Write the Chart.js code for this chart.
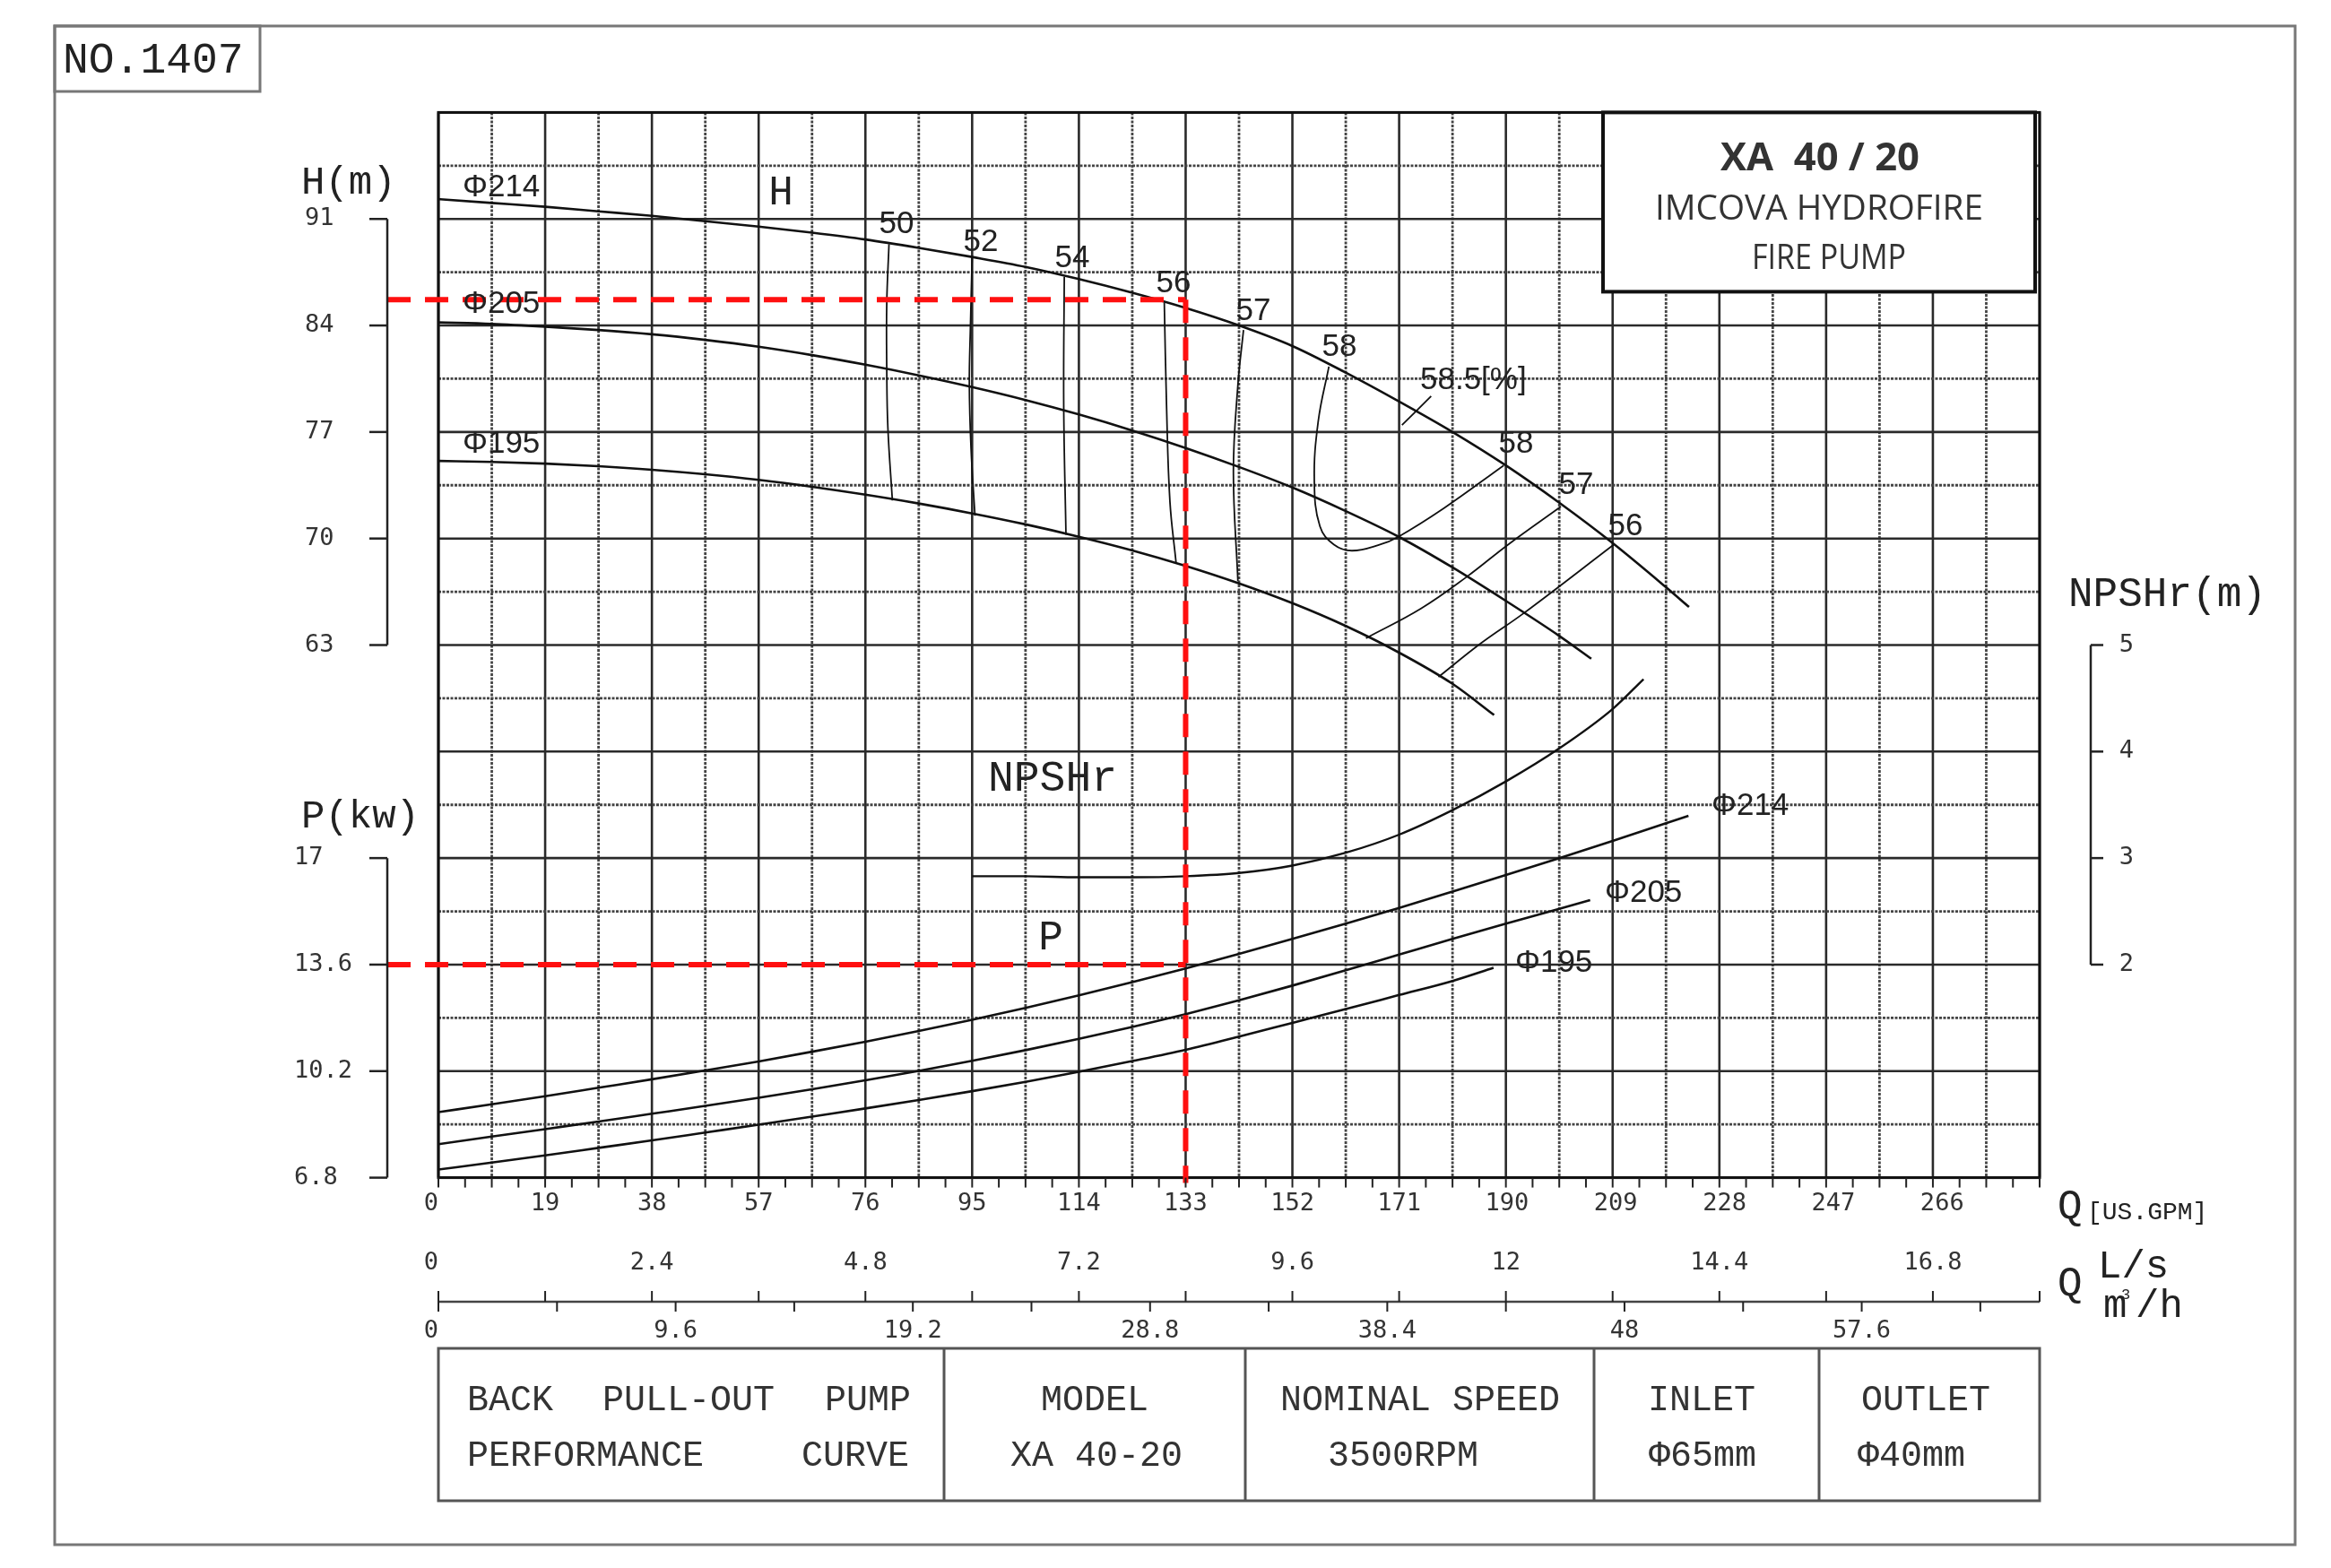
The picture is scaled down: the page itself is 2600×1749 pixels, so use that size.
<!DOCTYPE html>
<html><head><meta charset="utf-8">
<script src="https://cdn.jsdelivr.net/npm/chart.js@4.4.1/dist/chart.umd.min.js"></script>
<style>html,body{margin:0;padding:0;background:#fff;}canvas{display:block;}</style>
</head><body>
<canvas id="c" width="2600" height="1749"></canvas>
<script>
// ---------------- tick labels ----------------
const flowGpmTicks = [0,19,38,57,76,95,114,133,152,171,190,209,228,247,266];
const flowLpsTicks = [0,2.4,4.8,7.2,9.6,12,14.4,16.8];
const flowM3hTicks = [0,9.6,19.2,28.8,38.4,48,57.6];
const headTicks = [63,70,77,84,91];
const powerTicks = [6.8,10.2,13.6,17];
const npshTicks = [2,3,4,5];

// ---------------- head curves H (m) vs Q (US GPM) ----------------
const flowH214 = [0,9.5,19,28.5,38,47.5,57,66.5,76,85.5,95,104.5,114,123.5,133,142.5,152,161.5,171,180.5,190,199.5,209,218.5,222.6];
const headH214 = [92.3,92.05,91.8,91.5,91.2,90.85,90.5,90.1,89.65,89.1,88.5,87.85,87.05,86.15,85.15,84.0,82.65,80.9,79.0,77.0,74.8,72.35,69.7,66.8,65.5];
const flowH205 = [0,9.5,19,28.5,38,47.5,57,66.5,76,85.5,95,104.5,114,123.5,133,142.5,152,161.5,171,180.5,190,199.5,205.2];
const headH205 = [84.2,84.1,83.92,83.7,83.42,83.05,82.6,82.05,81.42,80.72,79.95,79.1,78.15,77.1,75.95,74.7,73.35,71.8,70.1,68.1,65.9,63.6,62.1];
const flowH195 = [0,9.5,19,28.5,38,47.5,57,66.5,76,85.5,95,104.5,114,123.5,133,142.5,152,161.5,171,180.5,187.9];
const headH195 = [75.1,75.03,74.92,74.75,74.52,74.22,73.85,73.4,72.88,72.3,71.65,70.93,70.12,69.22,68.2,67.05,65.75,64.25,62.5,60.45,58.4];

// ---------------- iso-efficiency lines (Q GPM, H m) ----------------
const eff50Flow = [80.2,79.8,79.8,80.0,80.8];       const eff50Head = [89.35,85.4,81.2,77.3,72.5];
const eff52Flow = [95.0,94.7,94.5,94.8,95.5];       const eff52Head = [88.5,84.0,80.15,75.95,71.5];
const eff54Flow = [111.4,111.3,111.7];              const eff54Head = [87.2,78.75,70.25];
const eff56Flow = [129.2,129.6,130.2,131.3];        const eff56Head = [85.5,78.75,72.45,68.4];
const eff57Flow = [143.3,142.3,141.5,142.3];        const eff57Head = [83.7,80.1,74.4,67.2];
const eff58Flow = [158.5,156.6,155.9,156.9,159.4,162.6,167.6,170.8,179.0,189.6];
const eff58Head = [81.3,77.7,73.8,70.8,69.6,69.2,69.6,70.1,72.0,74.8];
const eff585Flow = [176.7,171.5];                   const eff585Head = [79.35,77.45];
const eff57bFlow = [199.8,190.4,183.1,174.9,165.1]; const eff57bHead = [72.1,69.6,67.5,65.4,63.45];
const eff56bFlow = [209.2,193.2,185.5,178.0];       const eff56bHead = [69.6,65.1,63.1,60.9];

// ---------------- NPSHr (m) ----------------
const flowNpsh = [95,104.5,114,123.5,133,142.5,152,161.5,171,180.5,190,199.5,209,214.5];
const npshr    = [2.83,2.83,2.82,2.82,2.83,2.86,2.93,3.05,3.22,3.45,3.72,4.03,4.40,4.68];

// ---------------- power curves P (kW) ----------------
const flowP214 = [0,9.5,19,28.5,38,47.5,57,66.5,76,85.5,95,104.5,114,123.5,133,142.5,152,161.5,171,180.5,190,199.5,209,218.5,222.5];
const powerP214 = [8.89,9.14,9.40,9.67,9.94,10.22,10.51,10.82,11.14,11.48,11.84,12.22,12.62,13.04,13.48,13.94,14.42,14.91,15.41,15.93,16.46,17.00,17.55,18.11,18.35];
const flowP205 = [0,9.5,19,28.5,38,47.5,57,66.5,76,85.5,95,104.5,114,123.5,133,142.5,152,161.5,171,180.5,190,199.5,205];
const powerP205 = [7.87,8.11,8.35,8.59,8.84,9.09,9.35,9.62,9.91,10.21,10.53,10.87,11.23,11.61,12.02,12.46,12.93,13.42,13.92,14.42,14.91,15.38,15.66];
const flowP195 = [0,9.5,19,28.5,38,47.5,57,66.5,76,85.5,95,104.5,114,123.5,133,142.5,152,161.5,171,180.5,187.8];
const powerP195 = [7.06,7.28,7.51,7.75,7.99,8.24,8.49,8.75,9.01,9.28,9.56,9.86,10.18,10.52,10.88,11.30,11.74,12.18,12.63,13.08,13.50];

// duty point
const dutyFlow = 133, dutyHead = 85.7, dutyPower = 13.6;

// unit relations of the flow axes
const GPM_MAX = 285, LPS_MAX = 18;
const GPM_PER_LPS = GPM_MAX / LPS_MAX;
const GPM_PER_M3H = GPM_PER_LPS / 3.6;

const pts = (xs, ys) => xs.map((x, i) => ({x, y: ys[i]}));
const curve = (xs, ys, axis, w, mono) => ({
  data: pts(xs, ys), yAxisID: axis, showLine: true, pointRadius: 0,
  borderColor: '#111', borderWidth: w, fill: false,
  tension: mono ? 0 : 0.4, cubicInterpolationMode: mono ? 'monotone' : 'default'
});

const datasets = [
  curve(flowH214, headH214, 'yH', 2.6, true),
  curve(flowH205, headH205, 'yH', 2.6, true),
  curve(flowH195, headH195, 'yH', 2.6, true),
  curve(eff50Flow, eff50Head, 'yH', 1.8),
  curve(eff52Flow, eff52Head, 'yH', 1.8),
  curve(eff54Flow, eff54Head, 'yH', 1.8),
  curve(eff56Flow, eff56Head, 'yH', 1.8),
  curve(eff57Flow, eff57Head, 'yH', 1.8),
  curve(eff58Flow, eff58Head, 'yH', 1.8),
  curve(eff585Flow, eff585Head, 'yH', 1.8),
  curve(eff57bFlow, eff57bHead, 'yH', 1.8),
  curve(eff56bFlow, eff56bHead, 'yH', 1.8),
  curve(flowNpsh, npshr, 'yN', 2.4, true),
  curve(flowP214, powerP214, 'yP', 2.6, true),
  curve(flowP205, powerP205, 'yP', 2.6, true),
  curve(flowP195, powerP195, 'yP', 2.6, true)
];

const MONO = '"Liberation Mono", "DejaVu Sans Mono", monospace';
const TICK = '"DejaVu Sans Mono", monospace';
const SANS = '"Liberation Sans", Arial, sans-serif';

function txt(ctx, s, x, y, font, align, color, sx) {
  ctx.save();
  ctx.font = font; ctx.fillStyle = color || '#222';
  ctx.textAlign = align || 'left'; ctx.textBaseline = 'middle';
  ctx.translate(x, y); if (sx) ctx.scale(sx, 1);
  ctx.fillText(s, 0, 0); ctx.restore();
}
function fitTxt(ctx, s, x, y, font, align, color, w) {
  ctx.save(); ctx.font = font; const m = ctx.measureText(s).width; ctx.restore();
  txt(ctx, s, x, y, font, align, color, w / m);
}
function line(ctx, x1, y1, x2, y2, w, c, dash) {
  ctx.save(); ctx.beginPath(); ctx.lineWidth = w; ctx.strokeStyle = c;
  ctx.setLineDash(dash || []); ctx.moveTo(x1, y1); ctx.lineTo(x2, y2); ctx.stroke(); ctx.restore();
}

const gridPlugin = {
  id: 'grid',
  beforeDatasetsDraw(chart) {
    const {ctx, chartArea: a, scales: s} = chart;
    const COL = 9.5, ROW = 3.5;
    for (let i = 0; i * COL <= GPM_MAX + 0.01; i++) {
      const x = s.x.getPixelForValue(i * COL);
      if (i % 2) line(ctx, x, a.top, x, a.bottom, 2.8, '#444', [3, 1.5]);
      else line(ctx, x, a.top, x, a.bottom, 2.6, '#2a2a2a');
    }
    for (let j = 0; 28 + j * ROW <= 98.01; j++) {
      const y = s.yH.getPixelForValue(28 + j * ROW);
      if (j % 2) line(ctx, a.left, y, a.right, y, 2.8, '#444', [3, 1.5]);
      else line(ctx, a.left, y, a.right, y, 2.6, '#2a2a2a');
    }
    ctx.save(); ctx.lineWidth = 3; ctx.strokeStyle = '#111';
    ctx.strokeRect(a.left, a.top, a.right - a.left, a.bottom - a.top); ctx.restore();
  },
  afterDatasetsDraw(chart) {
    const {ctx, chartArea: a, scales: s} = chart;
    const X = v => s.x.getPixelForValue(v);
    const YH = v => s.yH.getPixelForValue(v);
    const YP = v => s.yP.getPixelForValue(v);
    const YN = v => s.yN.getPixelForValue(v);

    // title box
    ctx.save(); ctx.fillStyle = '#fff'; ctx.fillRect(1788, a.top, 482, 200);
    ctx.lineWidth = 4; ctx.strokeStyle = '#111'; ctx.strokeRect(1788, a.top, 482, 200); ctx.restore();
    fitTxt(ctx, 'XA  40 / 20', 2030, 178, 'bold 43px "Open Sans", sans-serif', 'center', '#333', 222);
    fitTxt(ctx, 'IMCOVA HYDROFIRE', 2029, 234, '39px "Open Sans", sans-serif', 'center', '#333', 366);
    fitTxt(ctx, 'FIRE PUMP', 2040, 289, '39px "Open Sans", sans-serif', 'center', '#333', 172);

    // duty point red dashed lines
    const RED = '#ff1010', DASH = [26, 16];
    const bx = 432;
    line(ctx, bx, YH(dutyHead), X(dutyFlow), YH(dutyHead), 6, RED, DASH);
    line(ctx, X(dutyFlow), YH(dutyHead), X(dutyFlow), a.bottom + 6, 6, RED, DASH);
    line(ctx, bx, YP(dutyPower), X(dutyFlow), YP(dutyPower), 6, RED, DASH);

    // curve labels
    const LF = '35px ' + SANS;
    txt(ctx, 'Φ214', 516, 209, LF);
    txt(ctx, 'Φ205', 516, 339, LF);
    txt(ctx, 'Φ195', 516, 495, LF);
    txt(ctx, 'Φ214', 1909, 899, LF);
    txt(ctx, 'Φ205', 1790, 996, LF);
    txt(ctx, 'Φ195', 1690, 1074, LF);
    const effLabels = [['50',1000,250],['52',1094,270],['54',1196,288],['56',1309,316],['57',1398,347],
      ['58',1494,387],['58',1691,495],['57',1758,541],['56',1813,587]];
    effLabels.forEach(e => txt(ctx, e[0], e[1], e[2], LF, 'center'));
    txt(ctx, '58.5[%]', 1584, 424, LF);
    txt(ctx, 'H', 871, 216, '46px ' + MONO, 'center');
    txt(ctx, 'NPSHr', 1102, 869, '48px ' + MONO);
    txt(ctx, 'P', 1172, 1047, '46px ' + MONO, 'center');

    // left axes
    const AX = '#222';
    line(ctx, bx, YH(headTicks[headTicks.length - 1]), bx, YH(headTicks[0]), 2.5, AX);
    headTicks.forEach(v => { line(ctx, 412, YH(v), bx, YH(v), 2.5, AX); txt(ctx, String(v), 340, YH(v), '27px ' + TICK, 'left', '#333'); });
    line(ctx, bx, YP(powerTicks[powerTicks.length - 1]), bx, YP(powerTicks[0]), 2.5, AX);
    powerTicks.forEach(v => { line(ctx, 412, YP(v), bx, YP(v), 2.5, AX); txt(ctx, String(v), 328, YP(v), '27px ' + TICK, 'left', '#333'); });
    txt(ctx, 'H(m)', 336, 204, '44px ' + MONO);
    txt(ctx, 'P(kw)', 336, 911, '44px ' + MONO);

    // right NPSHr axis
    const nx = 2332;
    line(ctx, nx, YN(npshTicks[npshTicks.length - 1]), nx, YN(npshTicks[0]), 2.5, AX);
    npshTicks.forEach(v => { line(ctx, nx, YN(v), nx + 14, YN(v), 2.5, AX); txt(ctx, String(v), 2372, YN(v), '27px ' + TICK, 'center', '#333'); });
    txt(ctx, 'NPSHr(m)', 2307, 664, '46px ' + MONO);

    // GPM axis (bottom of plot)
    for (let v = 0; v <= GPM_MAX + 0.01; v += 4.75) line(ctx, X(v), a.bottom, X(v), a.bottom + 11, 2, AX);
    flowGpmTicks.forEach(v => txt(ctx, String(v), v === 0 ? X(v) - 8 : X(v) + (v > 180 ? (v - 180) * 0.12 : 0), 1343, '27px ' + TICK, 'center', '#333'));
    txt(ctx, 'Q', 2295, 1347, '46px ' + MONO);
    txt(ctx, '[US.GPM]', 2328, 1353, '28px ' + MONO);

    // L/s labels
    flowLpsTicks.forEach(v => txt(ctx, String(v), v === 0 ? X(0) - 8 : X(v * GPM_PER_LPS), 1409, '27px ' + TICK, 'center', '#333'));

    // m3/h axis
    const my = 1452;
    line(ctx, a.left, my, a.right, my, 2.5, '#444');
    for (let l = 0; l <= LPS_MAX + 0.01; l += 1.2) line(ctx, X(l * GPM_PER_LPS), my - 12, X(l * GPM_PER_LPS), my, 2, AX);
    for (let m = 0; m * GPM_PER_M3H <= GPM_MAX + 0.01; m += 4.8) line(ctx, X(m * GPM_PER_M3H), my, X(m * GPM_PER_M3H), my + 11, 2, AX);
    line(ctx, a.right, my - 12, a.right, my, 2, AX);
    flowM3hTicks.forEach(v => txt(ctx, String(v), v === 0 ? X(0) - 8 : X(v * GPM_PER_M3H), 1485, '27px ' + TICK, 'center', '#333'));
    txt(ctx, 'Q', 2295, 1433, '46px ' + MONO);
    txt(ctx, 'L/s', 2340, 1413, '44px ' + MONO);
    txt(ctx, 'm', 2346, 1457, '44px ' + MONO);
    txt(ctx, '3', 2366, 1444, '17px ' + MONO);
    txt(ctx, '/h', 2382, 1457, '44px ' + MONO);

    // info table
    ctx.save(); ctx.lineWidth = 3; ctx.strokeStyle = '#555';
    ctx.strokeRect(a.left, 1504, a.right - a.left, 170);
    [1053, 1389, 1778, 2029].forEach(x => { ctx.beginPath(); ctx.moveTo(x, 1504); ctx.lineTo(x, 1674); ctx.stroke(); });
    ctx.restore();
    const TF = '40px ' + MONO, TC = '#333';
    txt(ctx, 'BACK', 521, 1562, TF, 'left', TC);
    txt(ctx, 'PULL-OUT', 672, 1562, TF, 'left', TC);
    txt(ctx, 'PUMP', 1016, 1562, TF, 'right', TC);
    txt(ctx, 'PERFORMANCE', 521, 1624, TF, 'left', TC);
    txt(ctx, 'CURVE', 1014, 1624, TF, 'right', TC);
    txt(ctx, 'MODEL', 1221, 1562, TF, 'center', TC);
    txt(ctx, 'XA 40-20', 1223, 1624, TF, 'center', TC);
    txt(ctx, 'NOMINAL SPEED', 1584, 1562, TF, 'center', TC);
    txt(ctx, '3500RPM', 1565, 1624, TF, 'center', TC);
    txt(ctx, 'INLET', 1898, 1562, TF, 'center', TC);
    txt(ctx, 'Φ65mm', 1899, 1624, TF, 'center', TC);
    txt(ctx, 'OUTLET', 2148, 1562, TF, 'center', TC);
    txt(ctx, 'Φ40mm', 2132, 1624, TF, 'center', TC);

    // outer frame and number box
    ctx.save(); ctx.lineWidth = 3; ctx.strokeStyle = '#777';
    ctx.strokeRect(61, 29, 2499, 1694);
    ctx.strokeRect(61, 29, 229, 73); ctx.restore();
    txt(ctx, 'NO.1407', 70, 68, '48px ' + MONO, 'left', '#222');
  }
};

new Chart(document.getElementById('c'), {
  type: 'scatter',
  data: { datasets },
  options: {
    responsive: false, devicePixelRatio: 1, animation: false, events: [],
    layout: { padding: { left: 489, right: 325, top: 125.4, bottom: 435.4 } },
    plugins: { legend: { display: false }, tooltip: { enabled: false } },
    scales: {
      x:  { type: 'linear', min: 0, max: GPM_MAX, display: false },
      yH: { type: 'linear', min: 28, max: 98, display: false },
      yP: { type: 'linear', min: 6.8, max: 40.8, display: false },
      yN: { type: 'linear', min: 0, max: 10, display: false }
    }
  },
  plugins: [gridPlugin]
});
</script>
</body></html>
